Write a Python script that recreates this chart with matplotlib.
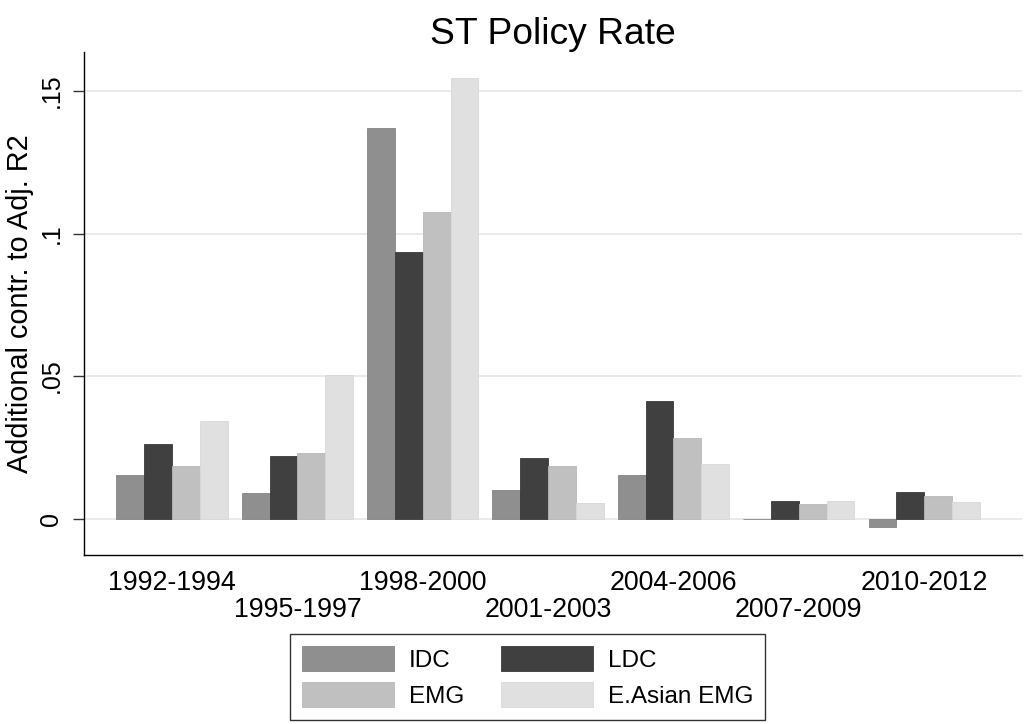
import numpy as np
import matplotlib
matplotlib.use('Agg')
import matplotlib.pyplot as plt

plt.rcParams['font.family'] = ['Liberation Sans', 'DejaVu Sans']

periods = ['1992-1994', '1995-1997', '1998-2000', '2001-2003',
           '2004-2006', '2007-2009', '2010-2012']
series = ['IDC', 'LDC', 'EMG', 'E.Asian EMG']

idc = [0.0153, 0.0089, 0.1372, 0.0099, 0.0154, -0.0003, -0.0029]
ldc = [0.0263, 0.0218, 0.0935, 0.0212, 0.0412, 0.0063, 0.0092]
emg = [0.0186, 0.0229, 0.1074, 0.0184, 0.0283, 0.0051, 0.0078]
easian = [0.0342, 0.0502, 0.1544, 0.0055, 0.0193, 0.0061, 0.0058]

yticks = [0, 0.05, 0.1, 0.15]
ytick_labels = ['0', '.05', '.1', '.15']

# stata-like grey shades
colors = ['#8f8f8f', '#404040', '#c0c0c0', '#e0e0e0']
edges = ['#858585', '#3a3a3a', '#b8b8b8', '#d8d8d8']

fig = plt.figure(figsize=(10.24, 7.24), dpi=100)
ax = fig.add_axes([0.0823, 0.2338, 0.9157, 0.6948])

x = np.arange(len(periods))
w = 0.222
bars = []
for i, vals in enumerate([idc, ldc, emg, easian]):
    b = ax.bar(x + (i - 1.5) * w, vals, width=w, color=colors[i],
               edgecolor=edges[i], linewidth=0.6, label=series[i], zorder=3)
    bars.append(b)

ax.set_xlim(-0.70, 6.78)
ax.set_ylim(-0.0127, 0.1638)
ax.set_yticks(yticks)
ax.set_yticklabels(ytick_labels)
ax.grid(axis='y', color='#e6e6e6', linewidth=1.2, zorder=0)
ax.set_axisbelow(True)

for s in ['top', 'right']:
    ax.spines[s].set_visible(False)
for s in ['left', 'bottom']:
    ax.spines[s].set_linewidth(1.0)

ax.tick_params(axis='y', labelrotation=90, length=8, width=1.0,
               color='#333333', labelsize=18, pad=7)
ax.set_xticks(x)
ax.set_xticklabels(periods)
ax.tick_params(axis='x', length=0, labelsize=19.3)
for k, t in enumerate(ax.xaxis.get_major_ticks()):
    t.set_pad(11 if k % 2 == 0 else 30.5)
for lab in ax.get_yticklabels():
    lab.set_va('center')

ax.set_ylabel('Additional contr. to Adj. R2', fontsize=20.8, labelpad=4)
ax.set_title('ST Policy Rate', fontsize=26.8, pad=5)

handles = [bars[0], bars[2], bars[1], bars[3]]
labels = [series[0], series[2], series[1], series[3]]
leg = fig.legend(handles, labels, ncol=2, loc='upper center',
                 bbox_to_anchor=(527.5 / 1024, 1 - 634 / 724),
                 fontsize=17.5, frameon=True, fancybox=False, shadow=False,
                 handlelength=3.78, handleheight=1.2, handletextpad=0.62,
                 columnspacing=1.5, labelspacing=0.42, borderpad=0.5,
                 borderaxespad=0)
leg.get_frame().set_edgecolor('black')
leg.get_frame().set_linewidth(1.0)

fig.savefig('out.png', dpi=100)
